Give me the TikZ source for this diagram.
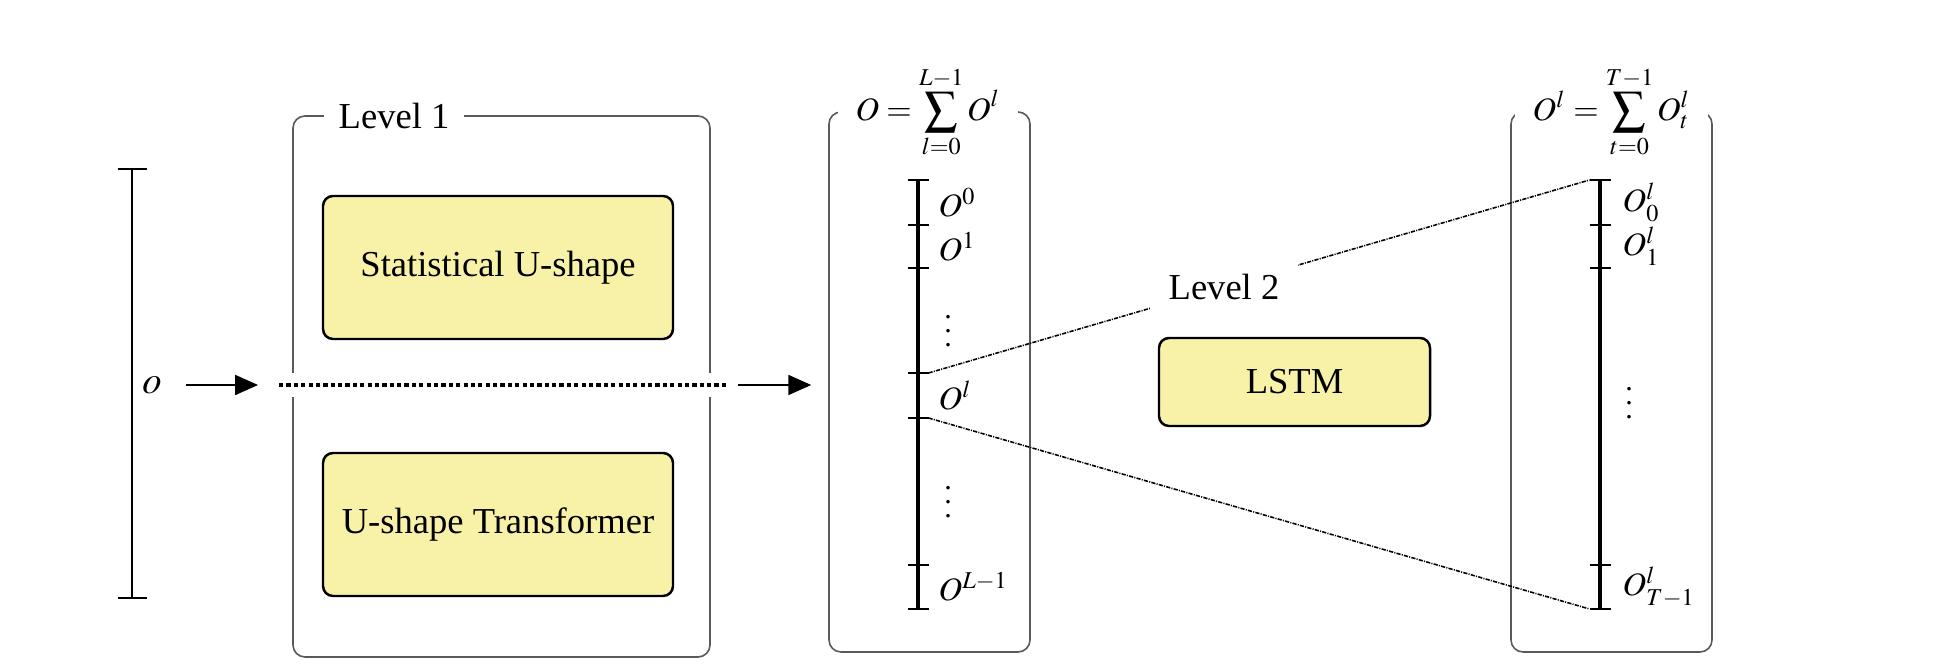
\documentclass[tikz,border=0pt]{standalone}
\usepackage{mathptmx}
\usepackage{fontspec}
\setmainfont{Liberation Serif}
\usetikzlibrary{arrows.meta}
\definecolor{modelyellow}{RGB}{247,242,168}
\newcommand{\lblsize}{\fontsize{9.3}{11}\selectfont}

\begin{document}
\begin{tikzpicture}[font=\fontsize{10.4}{12}\selectfont,>={Triangle[length=6.5pt,width=5.7pt]}]
	
	% Styles for boxes, bars and links
	\tikzset{
		outerbox/.style={rectangle,draw=black!65,line width=0.45pt,rounded corners=0.12cm},
		model/.style={rectangle,draw,line width=0.7pt,rounded corners=0.1cm,fill=modelyellow,
			minimum width=3.5cm,minimum height=1.43cm},
		boxtitle/.style={fill=white,inner ysep=1pt},
		bar/.style={line width=1.1pt},
		thin/.style={line width=0.45pt},
		barlabel/.style={anchor=west,inner sep=0pt,font=\lblsize},
		bardots/.style={inner sep=0pt,font=\fontsize{8.5}{10}\selectfont},
		link/.style={line width=0.45pt,dash pattern=on 1.2pt off 0.35pt on 0.3pt off 0.35pt}
	}
	
	\useasboundingbox (0,0) rectangle (19.6,6.67);
	
	%========================================
	% Input o
	%========================================
	\draw[thin] (1.175,4.98) -- (1.465,4.98) (1.32,4.98) -- (1.32,0.69)
	(1.175,0.69) -- (1.465,0.69);
	\node (oin) at (1.52,2.82) {\fontsize{11}{12}\selectfont$o$};
	
	%========================================
	% Level 1
	%========================================
	\node[outerbox,minimum width=4.17cm,minimum height=5.41cm] (L1) at (5.015,2.805) {};
	\node[boxtitle,inner xsep=0.145cm] (L1title) at (3.94,5.51) {Level 1};
	\node[model] (stat) at (4.98,3.995) {Statistical U-shape};
	\node[model] (trans) at (4.98,1.425) {U-shape Transformer};
	
	%========================================
	% O = sum of O^l
	%========================================
	\node[outerbox,minimum width=2.01cm,minimum height=5.40cm] (Obox) at (9.295,2.85) {};
	\node[boxtitle,inner xsep=0.18cm,font=\lblsize] (Otitle) at (9.28,5.55)
	{$\displaystyle O=\sum_{l=0}^{L-1}O^l$};
	
	\draw[bar] (9.18,4.87) -- (9.18,0.58);
	\draw[thin] (9.075,4.87) -- (9.285,4.87) (9.075,4.42) -- (9.285,4.42)
	(9.075,3.99) -- (9.285,3.99) (9.075,2.94) -- (9.285,2.94)
	(9.075,2.49) -- (9.285,2.49) (9.075,1.02) -- (9.285,1.02)
	(9.075,0.58) -- (9.285,0.58);
	\coordinate (Oltop) at (9.285,2.94);
	\coordinate (Olbot) at (9.285,2.49);
	
	\node[barlabel] (O0) at (9.38,4.645) {$O^0$};
	\node[barlabel] (O1) at (9.38,4.205) {$O^1$};
	\node[bardots] (Odots1) at (9.48,3.465) {$\vdots$};
	\node[barlabel] (Ol) at (9.38,2.715) {$O^l$};
	\node[bardots] (Odots2) at (9.48,1.755) {$\vdots$};
	\node[barlabel] (OL) at (9.38,0.80) {$O^{L-1}$};
	
	%========================================
	% O^l = sum of O^l_t
	%========================================
	\node[outerbox,minimum width=2.01cm,minimum height=5.40cm] (Olbox) at (16.115,2.85) {};
	\node[boxtitle,inner xsep=0.175cm,font=\lblsize] (Oltitle) at (16.115,5.55)
	{$\displaystyle O^l=\sum_{t=0}^{T-1}O^l_t$};
	
	\draw[bar] (16.00,4.87) -- (16.00,0.58);
	\draw[thin] (15.895,4.87) -- (16.105,4.87) (15.895,4.42) -- (16.105,4.42)
	(15.895,3.99) -- (16.105,3.99) (15.895,1.02) -- (16.105,1.02)
	(15.895,0.58) -- (16.105,0.58);
	\coordinate (Rtop) at (15.895,4.87);
	\coordinate (Rbot) at (15.895,0.58);
	
	\node[barlabel] (Ol0) at (16.22,4.645) {$O^l_0$};
	\node[barlabel] (Ol1) at (16.22,4.205) {$O^l_1$};
	\node[bardots] (Oldots) at (16.29,2.74) {$\vdots$};
	\node[barlabel] (OlT) at (16.22,0.80) {$O^l_{T-1}$};
	
	%========================================
	% Level 2
	%========================================
	\node[model,minimum width=2.71cm,minimum height=0.88cm] (lstm) at (12.945,2.85) {LSTM};
	\draw[link] (Oltop) -- node[pos=0.447,fill=white,inner xsep=0.19cm] (L2title) {Level 2} (Rtop);
	\draw[link] (Olbot) -- (Rbot);
	
	%========================================
	% Data flow
	%========================================
	\coordinate (dotL) at (2.79,2.82);
	\coordinate (dotR) at (7.27,2.82);
	\draw[->,thin,shorten <=0.12cm,shorten >=0.21cm] (oin) -- (dotL);
	\draw[line width=1pt,dash pattern=on 1.2pt off 0.9pt,
	preaction={draw=white,solid,line width=0.24cm}] (dotL) -- (dotR);
	\draw[->,thin,shorten <=0.11cm,shorten >=0.17cm] (dotR) -- (dotR -| Obox.west);
	
\end{tikzpicture}
\end{document}
